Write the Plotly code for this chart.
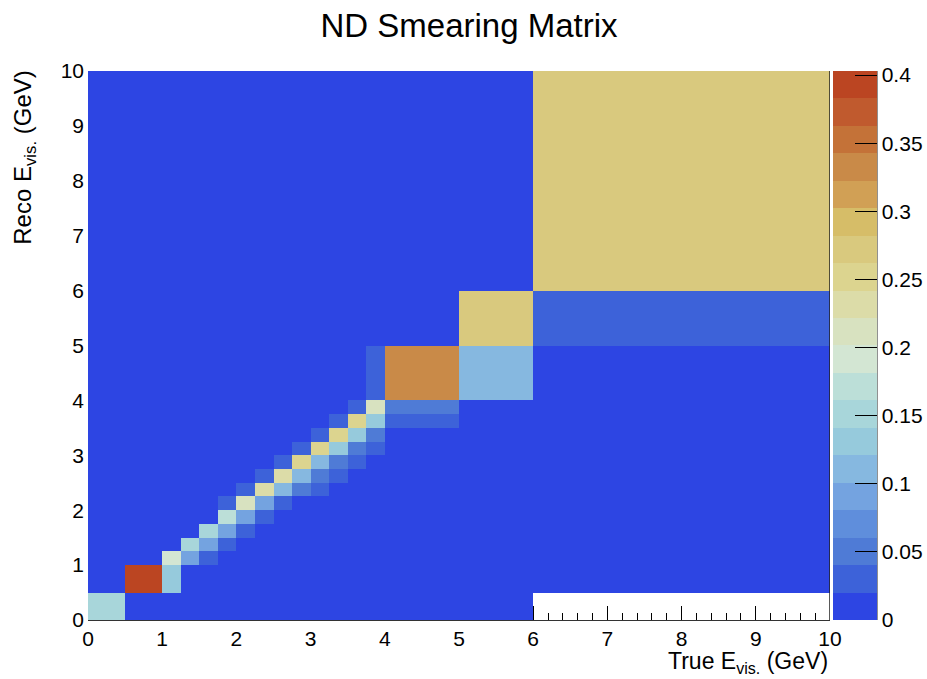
import plotly.graph_objects as go

# Variable bin edges (GeV), shared by true (x) and reco (y) axes
bin_edges = [0, 0.5, 1, 1.25, 1.5, 1.75, 2, 2.25, 2.5, 2.75, 3, 3.25, 3.5, 3.75, 4, 5, 6, 10]

# Smearing matrix: rows = reco bins (y), columns = true bins (x); None = empty bin
N = None
smearing = [
    [0.15, 0, 0, 0, 0, 0, 0, 0, 0, 0, 0, 0, 0, 0, 0, 0, N],
    [0, 0.40, 0.13, 0, 0, 0, 0, 0, 0, 0, 0, 0, 0, 0, 0, 0, 0],
    [0, 0, 0.19, 0.09, 0.03, 0, 0, 0, 0, 0, 0, 0, 0, 0, 0, 0, 0],
    [0, 0, 0, 0.15, 0.09, 0.03, 0, 0, 0, 0, 0, 0, 0, 0, 0, 0, 0],
    [0, 0, 0, 0, 0.15, 0.09, 0.03, 0, 0, 0, 0, 0, 0, 0, 0, 0, 0],
    [0, 0, 0, 0, 0, 0.17, 0.09, 0.03, 0, 0, 0, 0, 0, 0, 0, 0, 0],
    [0, 0, 0, 0, 0, 0.03, 0.21, 0.10, 0.03, 0, 0, 0, 0, 0, 0, 0, 0],
    [0, 0, 0, 0, 0, 0, 0.03, 0.23, 0.11, 0.05, 0.03, 0, 0, 0, 0, 0, 0],
    [0, 0, 0, 0, 0, 0, 0, 0.03, 0.24, 0.11, 0.06, 0.03, 0, 0, 0, 0, 0],
    [0, 0, 0, 0, 0, 0, 0, 0, 0.03, 0.25, 0.11, 0.05, 0.03, 0, 0, 0, 0],
    [0, 0, 0, 0, 0, 0, 0, 0, 0, 0.03, 0.25, 0.13, 0.05, 0.03, 0, 0, 0],
    [0, 0, 0, 0, 0, 0, 0, 0, 0, 0, 0.03, 0.25, 0.13, 0.06, 0, 0, 0],
    [0, 0, 0, 0, 0, 0, 0, 0, 0, 0, 0, 0.03, 0.25, 0.13, 0.03, 0, 0],
    [0, 0, 0, 0, 0, 0, 0, 0, 0, 0, 0, 0, 0.03, 0.22, 0.05, 0, 0],
    [0, 0, 0, 0, 0, 0, 0, 0, 0, 0, 0, 0, 0, 0.03, 0.33, 0.11, 0],
    [0, 0, 0, 0, 0, 0, 0, 0, 0, 0, 0, 0, 0, 0, 0, 0.27, 0.03],
    [0, 0, 0, 0, 0, 0, 0, 0, 0, 0, 0, 0, 0, 0, 0, 0, 0.27],
]

x_ticks = [0, 1, 2, 3, 4, 5, 6, 7, 8, 9, 10]
y_ticks = [0, 1, 2, 3, 4, 5, 6, 7, 8, 9, 10]
z_ticks = [0, 0.05, 0.1, 0.15, 0.2, 0.25, 0.3, 0.35, 0.4]
z_tick_labels = ["0", "0.05", "0.1", "0.15", "0.2", "0.25", "0.3", "0.35", "0.4"]
z_max = 0.403

band_colors = [
    "#2d45e3", "#3d62d9", "#4f7bd6", "#5f8edc", "#74a3e0",
    "#86b8e0", "#96cadc", "#a8d6da", "#bcdfd8", "#d3e6d3",
    "#d8e2c0", "#dcdca8", "#dcd48f", "#d9c97e", "#d6bd68",
    "#d1a055", "#c98a48", "#c47238", "#c05a2e", "#bb4522",
]
nb = len(band_colors)
colorscale = []
for i, c in enumerate(band_colors):
    colorscale.append([i / nb, c])
    colorscale.append([(i + 1) / nb, c])

FONT = "Liberation Sans, Arial, Helvetica, sans-serif"

fig = go.Figure(
    go.Heatmap(
        x=bin_edges,
        y=bin_edges,
        z=smearing,
        zmin=0,
        zmax=z_max,
        colorscale=colorscale,
        hoverongaps=False,
        colorbar=dict(
            x=(833 - 88) / 742,
            xanchor="left",
            xpad=0,
            ypad=0,
            y=0.5,
            yanchor="middle",
            len=1,
            lenmode="fraction",
            thickness=44,
            thicknessmode="pixels",
            outlinewidth=0,
            ticks="inside",
            ticklen=22,
            tickwidth=1,
            tickcolor="black",
            tickvals=z_ticks,
            ticktext=z_tick_labels,
            tickfont=dict(family=FONT, size=21, color="black"),
        ),
    )
)

fig.update_layout(
    width=927,
    height=679,
    margin=dict(l=88, r=97, t=71, b=59, autoexpand=False),
    paper_bgcolor="white",
    plot_bgcolor="white",
    font=dict(family=FONT, color="black"),
    title=dict(
        text="ND Smearing Matrix",
        x=469 / 927,
        xref="container",
        xanchor="center",
        y=1 - 25 / 679,
        yref="container",
        yanchor="middle",
        font=dict(family=FONT, size=33, color="black"),
    ),
    xaxis=dict(
        range=[0, 10],
        tickvals=x_ticks,
        ticks="inside",
        ticklen=14,
        tickwidth=1,
        tickcolor="black",
        minor=dict(ticks="inside", ticklen=7, dtick=0.2, tick0=0, tickcolor="black", showgrid=False),
        showline=True,
        linecolor="#333333",
        linewidth=1,
        showgrid=False,
        zeroline=False,
        layer="below traces",
        tickfont=dict(family=FONT, size=21, color="black"),
    ),
    yaxis=dict(
        range=[0, 10],
        tickvals=y_ticks,
        ticks="inside",
        ticklen=14,
        tickcolor="black",
        showline=False,
        showgrid=False,
        zeroline=False,
        layer="below traces",
        ticklabelstandoff=3,
        tickfont=dict(family=FONT, size=21, color="black"),
    ),
    shapes=[
        dict(type="line", xref="x", yref="y", x0=10, x1=10, y0=0, y1=10,
             line=dict(color="#222222", width=1.5), layer="above"),
        dict(type="line", xref="paper", yref="paper", x0=(877 - 88) / 742, x1=(877 - 88) / 742,
             y0=0, y1=1, line=dict(color="#222222", width=1), layer="above"),
    ],
    annotations=[
        dict(text="True E<sub>vis.</sub> (GeV)", xref="paper", yref="paper",
             x=1, y=-(646 - 620) / 549, xanchor="right", yanchor="top", showarrow=False,
             font=dict(family=FONT, size=23, color="black")),
        dict(text="Reco E<sub>vis.</sub> (GeV)", xref="paper", yref="paper",
             x=(25 - 88) / 742, y=1.005, xanchor="center", yanchor="top", textangle=-90,
             showarrow=False, font=dict(family=FONT, size=24, color="black")),
    ],
)

fig.write_html(
    "out.html",
    config={"displayModeBar": False},
    post_script="document.body.style.margin='0';document.body.style.overflow='hidden';",
)
